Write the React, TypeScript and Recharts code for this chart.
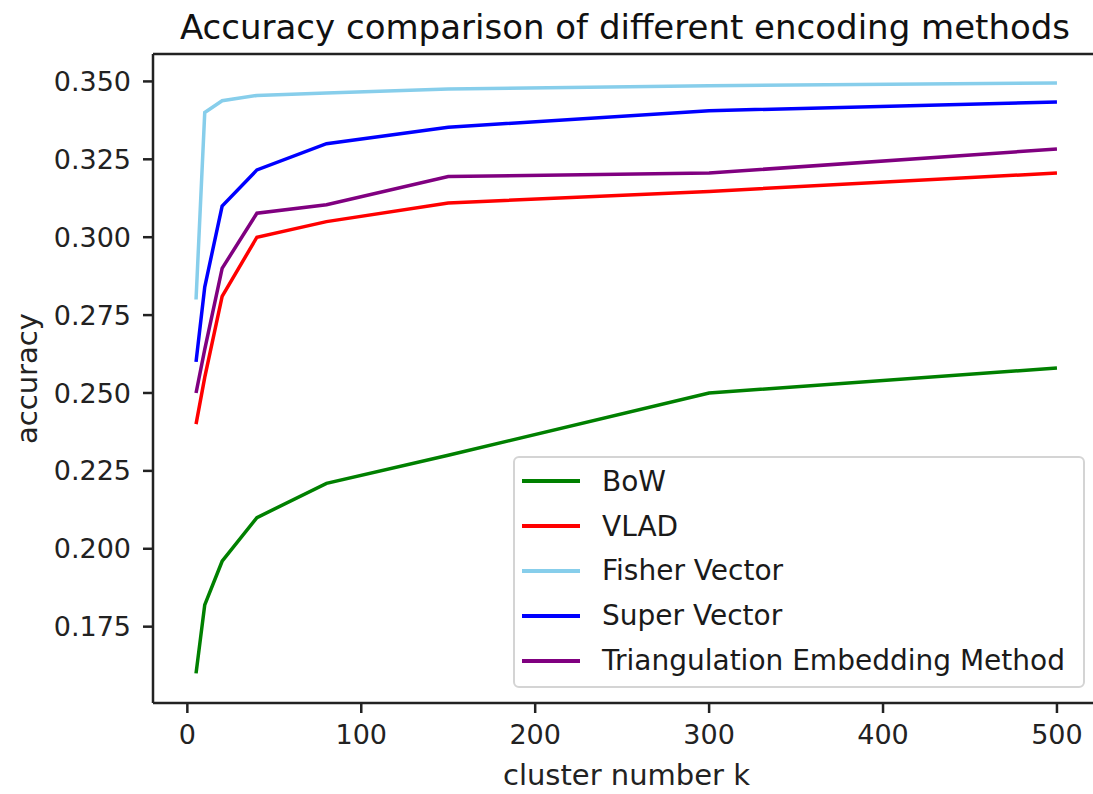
import { LineChart, Line, XAxis, YAxis, Legend, ReferenceLine } from 'recharts';

const clusterK = [5, 10, 20, 40, 80, 150, 300, 500];
const bow = [0.160, 0.182, 0.196, 0.210, 0.221, 0.230, 0.250, 0.258];
const vlad = [0.240, 0.255, 0.281, 0.300, 0.305, 0.311, 0.3147, 0.3206];
const fisher = [0.280, 0.340, 0.3438, 0.3455, 0.3463, 0.3476, 0.3486, 0.3495];
const superVec = [0.260, 0.284, 0.310, 0.3216, 0.330, 0.3353, 0.3406, 0.3434];
const triEmbed = [0.250, 0.264, 0.290, 0.3077, 0.3104, 0.3195, 0.3206, 0.3283];

const xTicks = [0, 100, 200, 300, 400, 500];
const yTicks = [0.175, 0.2, 0.225, 0.25, 0.275, 0.3, 0.325, 0.35];

const X_MIN = -19.75;
const X_MAX = 524.75;
const Y_MIN = 0.1505;
const Y_MAX = 0.3588;

const series = [
  { key: 'bow', name: 'BoW', color: '#008000', values: bow },
  { key: 'vlad', name: 'VLAD', color: '#ff0000', values: vlad },
  { key: 'fisher', name: 'Fisher Vector', color: '#87ceeb', values: fisher },
  { key: 'superVec', name: 'Super Vector', color: '#0000ff', values: superVec },
  { key: 'triEmbed', name: 'Triangulation Embedding Method', color: '#800080', values: triEmbed },
];

const chartData = clusterK.map((k, i) => {
  const row: Record<string, number> = { k };
  series.forEach(s => { row[s.key] = s.values[i]; });
  return row;
});

const FONT = '"DejaVu Sans", sans-serif';
const INK = '#222';

function LegendBox() {
  return (
    <div
      style={{
        width: 572,
        height: 232,
        boxSizing: 'border-box',
        border: '2px solid #d4d4d4',
        borderRadius: 6,
        background: 'rgba(255,255,255,0.8)',
        paddingTop: 1,
        fontFamily: FONT,
        fontSize: 28,
        color: '#1a1a1a',
      }}
    >
      {series.map(s => (
        <div key={s.key} style={{ height: 44.8, display: 'flex', alignItems: 'center' }}>
          <div style={{ width: 58, height: 4, background: s.color, marginLeft: 7, marginRight: 22 }} />
          <span style={{ whiteSpace: 'nowrap' }}>{s.name}</span>
        </div>
      ))}
    </div>
  );
}

export default function App() {
  return (
    <div style={{ position: 'absolute', left: 0, top: 0, width: 1093, height: 794, overflow: 'hidden', background: '#fff' }}>
      <LineChart width={1120} height={794} data={chartData} margin={{ top: 54, right: 20, bottom: 0, left: 0 }}>
        <text x={625} y={39} textAnchor="middle" fontFamily={FONT} fontSize={34} fill="#111">
          Accuracy comparison of different encoding methods
        </text>
        <XAxis
          dataKey="k"
          type="number"
          domain={[X_MIN, X_MAX]}
          ticks={xTicks}
          allowDataOverflow
          height={91}
          stroke={INK}
          strokeWidth={2.5}
          tickSize={10}
          tickMargin={12}
          tick={{ fill: INK, fontSize: 27, fontFamily: FONT }}
          label={{ value: 'cluster number k', position: 'center', dy: 26, fill: INK, fontSize: 29, fontFamily: FONT }}
        />
        <YAxis
          type="number"
          domain={[Y_MIN, Y_MAX]}
          ticks={yTicks}
          allowDataOverflow
          width={153}
          stroke={INK}
          strokeWidth={2.5}
          tickSize={10}
          tickMargin={12}
          tickFormatter={(v: number) => v.toFixed(3)}
          tick={{ fill: INK, fontSize: 27, fontFamily: FONT }}
          label={{ value: 'accuracy', angle: -90, position: 'center', dx: -50, fill: INK, fontSize: 29, fontFamily: FONT }}
        />
        <ReferenceLine y={Y_MAX} stroke={INK} strokeWidth={2.5} />
        <ReferenceLine x={X_MAX} stroke={INK} strokeWidth={2.5} />
        {series.map(s => (
          <Line
            key={s.key}
            dataKey={s.key}
            name={s.name}
            type="linear"
            stroke={s.color}
            strokeWidth={3.5}
            dot={false}
            activeDot={false}
            isAnimationActive={false}
          />
        ))}
        <Legend
          layout="vertical"
          align="center"
          verticalAlign="middle"
          content={() => <LegendBox />}
          wrapperStyle={{ left: 513, top: 456, width: 572, height: 232 }}
        />
      </LineChart>
    </div>
  );
}
